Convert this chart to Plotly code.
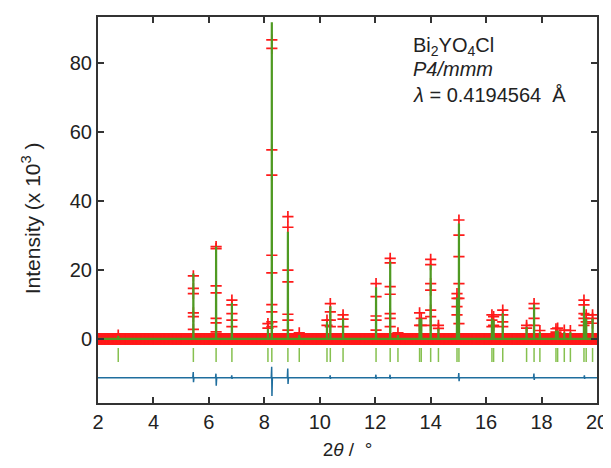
import numpy as np
import plotly.graph_objects as go

# Reflection / peak positions (2theta, deg)
peak_pos = [2.73, 5.44, 6.26, 6.83, 8.13, 8.27, 8.85, 9.26, 10.26, 10.38, 10.84,
            12.03, 12.54, 12.82, 13.60, 13.66, 14.00, 14.28, 14.95, 15.02,
            16.21, 16.27, 16.60, 17.46, 17.73, 17.94, 18.52, 18.58, 18.82, 19.04,
            19.53, 19.61, 19.84]
# Calculated peak maxima (x10^3)
peak_calc = [1.0, 19.0, 26.8, 10.5, 3.0, 91.8, 31.1, 1.2, 5.0, 9.5, 6.0,
             15.0, 22.5, 1.2, 6.0, 6.0, 21.5, 3.0, 12.0, 33.5,
             6.0, 5.5, 7.5, 3.5, 10.0, 2.0, 2.5, 2.5, 2.0, 2.0,
             9.5, 6.0, 6.0]
# Observed points visible above the background, per peak (x10^3)
peak_obs = [[1.2], [18.3, 14.7, 13.2, 7.6, 6.5, 2.8], [26.8, 26.2, 15.4, 13.4, 6.0, 4.7, 2.1],
            [11.3, 9.9, 7.4, 5.5, 3.6], [4.5, 3.2],
            [86.7, 84.2, 54.8, 47.5, 24.3, 19.2, 10.0, 7.9, 5.0, 3.6],
            [35.5, 32.4, 20.0, 16.6, 7.2, 5.5, 2.6], [1.8], [5.5, 4.0],
            [10.3, 7.9, 5.5, 3.6], [7.0, 5.8, 3.6],
            [16.1, 12.3, 6.7, 5.5, 2.6], [23.4, 22.1, 15.2, 13.0, 7.4, 6.0, 3.6], [1.8],
            [7.6, 4.0], [6.0, 4.0], [23.1, 21.6, 16.1, 14.2, 8.4, 6.5, 4.0], [4.0, 3.1],
            [13.2, 11.8, 9.4, 7.0], [34.5, 30.1, 23.9, 16.1, 11.8, 4.5],
            [7.0, 5.5, 3.6], [6.5, 4.0], [8.4, 7.0, 5.0, 3.6], [4.0, 3.2],
            [10.3, 8.9, 6.0, 4.0], [2.5], [3.0, 2.0], [3.2], [2.6], [2.5],
            [11.3, 9.9, 7.4, 6.0, 4.0], [7.0, 5.0], [7.0, 6.0, 4.6]]
background_level = 0.1
scan_start, scan_end, scan_step = 2.0, 20.2, 0.01

# Difference curve: baseline offset and spike extremes at selected peaks
diff_offset = -11.2
diff_pos = [5.44, 6.26, 6.83, 8.27, 8.85, 10.38, 12.03, 12.54, 15.02, 17.73, 19.55]
diff_up = [-9.5, -10.0, -10.5, -8.0, -8.5, -10.5, -10.3, -10.3, -9.8, -10.0, -10.5]
diff_down = [-12.5, -13.5, -11.5, -16.5, -13.0, -11.5, -11.5, -11.5, -12.2, -11.8, -11.5]
tick_row = -4.6

info_lines = ["Bi<sub>2</sub>YO<sub>4</sub>Cl", "<i>P4/mmm</i>",
              "<i>λ</i> = 0.4194564\u00a0\u00a0Å"]

# ---- build traces ----
scan = np.arange(scan_start, scan_end, scan_step)
obs_x = list(scan)
obs_y = [background_level] * len(scan)
for p, pts in zip(peak_pos, peak_obs):
    obs_x += [p] * len(pts)
    obs_y += pts

calc_x, calc_y = [scan_start], [background_level]
for p, h in zip(peak_pos, peak_calc):
    calc_x += [p - 0.004, p, p + 0.004]
    calc_y += [background_level, h, background_level]
calc_x.append(scan_end)
calc_y.append(background_level)

dx, dy = [scan_start], [diff_offset]
for p, u, d in zip(diff_pos, diff_up, diff_down):
    dx += [p - 0.02, p - 0.005, p + 0.005, p + 0.02]
    dy += [diff_offset, u, d, diff_offset]
dx.append(scan_end)
dy.append(diff_offset)

fig = go.Figure()
fig.add_trace(go.Scatter(x=obs_x, y=obs_y, mode="markers",
                         marker=dict(symbol="cross-thin", size=8, color="#ff1a1a",
                                     line=dict(color="#ff1a1a", width=1.7)),
                         showlegend=False))
fig.add_trace(go.Scatter(x=calc_x, y=calc_y, mode="lines",
                         line=dict(color="#4f9a22", width=2.2), showlegend=False))
fig.add_trace(go.Scatter(x=peak_pos, y=[tick_row] * len(peak_pos), mode="markers",
                         marker=dict(symbol="line-ns", size=10, color="#86c04f",
                                     line=dict(color="#86c04f", width=1.5)),
                         showlegend=False))
fig.add_trace(go.Scatter(x=dx, y=dy, mode="lines",
                         line=dict(color="#1f6e9e", width=1.5), showlegend=False))

font_family = "Liberation Sans, Arial, sans-serif"
for txt, yy in zip(info_lines, [0.924, 0.864, 0.799]):
    fig.add_annotation(xref="paper", yref="paper", x=0.628, y=yy, xanchor="left",
                       yanchor="middle", align="left", showarrow=False, text=txt,
                       font=dict(family=font_family, size=20, color="#222"))

# y-axis title as a rotated annotation
fig.add_annotation(xref="paper", yref="paper", x=-0.134, y=0.479, xanchor="center",
                   yanchor="middle", textangle=-90, showarrow=False,
                   text="Intensity (x 10<sup>3</sup> )",
                   font=dict(family=font_family, size=21, color="#222"))

axis_common = dict(showline=True, linecolor="#333", linewidth=2, mirror="ticks",
                   ticks="inside", ticklen=6, tickwidth=1.5, tickcolor="#333",
                   showgrid=False, zeroline=False, automargin=False,
                   ticklabeloverflow="allow",
                   tickfont=dict(family=font_family, size=20, color="#222"))
# The page body has an 8 px default margin, so the figure is sized/offset to compensate
fig.update_layout(
    width=603, height=452, margin=dict(l=90, r=14, t=9, b=57),
    plot_bgcolor="white", paper_bgcolor="white",
    xaxis=dict(range=[2, 20], tickvals=[2, 4, 6, 8, 10, 12, 14, 16, 18, 20],
               title=dict(text="2<i>θ</i> /\u00a0\u00a0°",
                          font=dict(family=font_family, size=19, color="#222"),
                          standoff=22),
               **axis_common),
    yaxis=dict(range=[-18.5, 93.3], tickvals=[0, 20, 40, 60, 80], **axis_common),
)
fig.write_html("out.html")
